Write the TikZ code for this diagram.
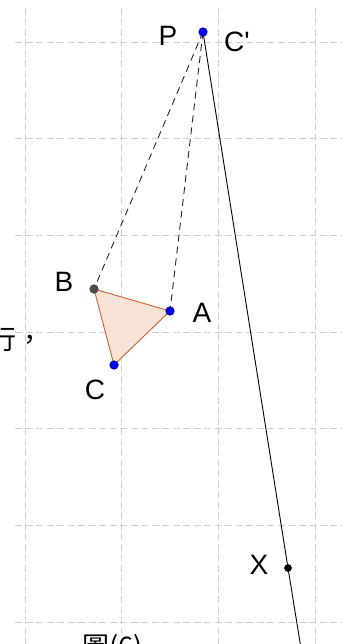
\documentclass[tikz,border=0pt]{standalone}
\usepackage{fontspec}
\setmainfont{Liberation Sans}
\newfontfamily\cjkfont{Noto Sans CJK TC}
\usetikzlibrary{positioning}
\definecolor{triedge}{RGB}{196,100,52}
\definecolor{trifill}{RGB}{248,226,214}
\definecolor{gridgray}{RGB}{208,208,208}

\begin{document}
\begin{tikzpicture}[
    x=1pt,y=-1pt,
    gridline/.style={draw=gridgray,dash pattern=on 7pt off 3.5pt,line width=0.8pt},
    dot/.style={circle,draw=black!75,line width=0.6pt,inner sep=0pt,minimum size=8.5pt},
    bluedot/.style={dot,fill=blue,draw=blue!40!black},
    lbl/.style={font=\fontsize{28}{30}\selectfont,inner sep=0pt},
    cjk/.style={font=\cjkfont\fontsize{27}{30}\selectfont,inner sep=0pt,anchor=base west},
    proj/.style={draw=black!85,line width=0.9pt,dash pattern=on 7pt off 5pt},
    tri/.style={draw=triedge,fill=trifill,line width=0.9pt,line join=round}
  ]
    \useasboundingbox (0,0) rectangle (351,644);
    \clip (0,0) rectangle (351,644);
    % grid
    \foreach \gx in {25,121.5,218,315}
      \draw[gridline] (\gx,8) -- (\gx,650);
    \foreach \gy in {42,138.5,235,332,428,525,622}
      \draw[gridline] (15,\gy) -- (341,\gy);
    % points
    \coordinate (P) at (203,32);
    \coordinate (B) at (94,289);
    \coordinate (A) at (170,311);
    \coordinate (C) at (114,365);
    \coordinate (X) at (288,568);
    \coordinate (end) at (304.5,670);
    \filldraw[tri] (B) -- (A) -- (C) -- cycle;
    \draw[proj] (P) -- (B);
    \draw[proj] (P) -- (A);
    \draw[line width=0.9pt] (P) -- (X) -- (end);
    \node[bluedot] (dotP) at (P) {};
    \node[dot,fill=black!70] (dotB) at (B) {};
    \node[bluedot] (dotA) at (A) {};
    \node[bluedot] (dotC) at (C) {};
    \node[dot,fill=black,draw=black,minimum size=7pt] (dotX) at (X) {};
    % labels
    \node[lbl] (labP) at (168,36) {P};
    \node[lbl] (labC) at (237,42) {C\textquotesingle};
    \node[lbl] (labB) at (64,282) {B};
    \node[lbl] (labA) at (202,313) {A};
    \node[lbl] (labCc) at (95,390) {C};
    \node[lbl] (labX) at (259,565) {X};
    \node[cjk] (side) at (-11,349) {行，};
    \node[cjk] (cap) at (82,656) {圖(6)};
  \end{tikzpicture}
\end{document}
